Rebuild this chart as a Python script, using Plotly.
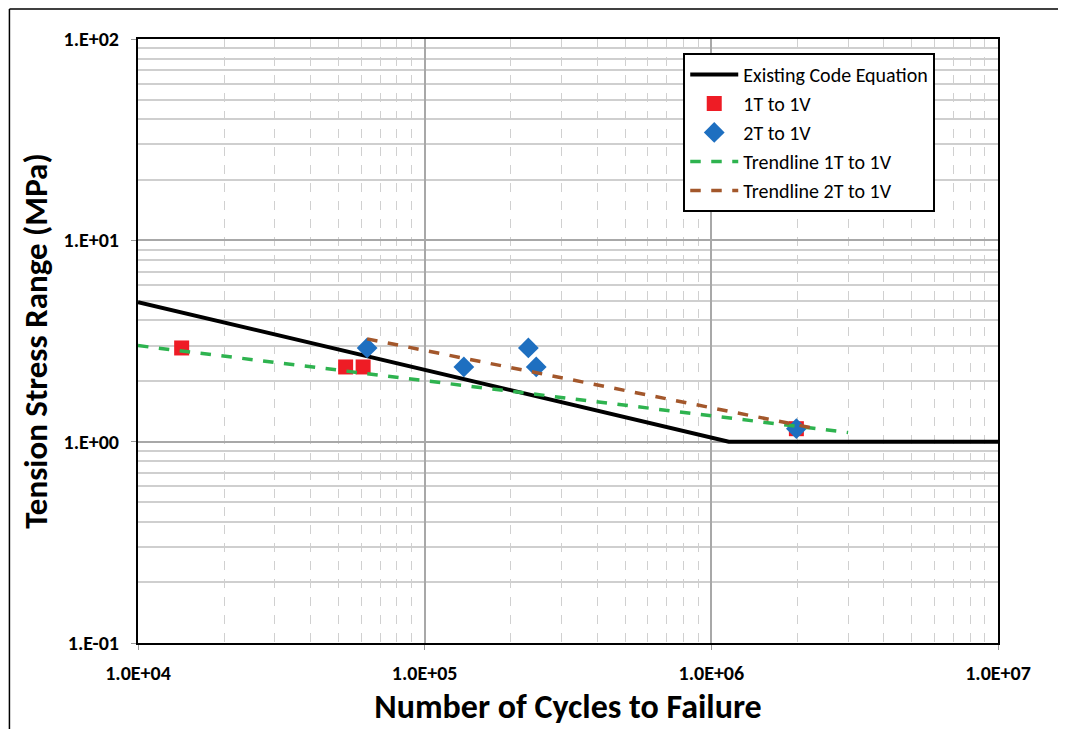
import plotly.graph_objects as go

# Data
code_cycles = [1.0e4, 1.15e6, 1.0e7]
code_stress = [4.93, 1.0, 1.0]

cycles_1t = [1.42e4, 5.3e4, 6.1e4, 1.98e6]
stress_1t = [2.92, 2.35, 2.35, 1.16]

cycles_2t = [6.3e4, 1.37e5, 2.3e5, 2.45e5, 1.98e6]
stress_2t = [2.92, 2.35, 2.92, 2.35, 1.16]

trend_1t_cycles = [1.0e4, 3.0e6]
trend_1t_stress = [3.0, 1.11]

trend_2t_cycles = [6.3e4, 2.25e6]
trend_2t_stress = [3.24, 1.17]

x_ticks = [1e4, 1e5, 1e6, 1e7]
x_ticktext = ["1.0E+04", "1.0E+05", "1.0E+06", "1.0E+07"]
y_ticks = [0.1, 1, 10, 100]
y_ticktext = ["1.E-01", "1.E+00", "1.E+01", "1.E+02"]

FONT = "Carlito, 'Liberation Sans Narrow', 'Liberation Sans', sans-serif"

x_minor = [k * 10 ** e for e in range(4, 7) for k in range(2, 10)]
y_minor = [k * 10 ** e for e in range(-1, 2) for k in range(2, 10)]

fig = go.Figure()

fig.add_trace(go.Scatter(
    x=code_cycles, y=code_stress, mode='lines',
    name='Existing Code Equation',
    line=dict(color='#000000', width=4)
))

fig.add_trace(go.Scatter(
    x=cycles_1t, y=stress_1t, mode='markers',
    name='1T to 1V',
    marker=dict(symbol='square', size=15, color='#EE1C25')
))

fig.add_trace(go.Scatter(
    x=cycles_2t, y=stress_2t, mode='markers',
    name='2T to 1V',
    marker=dict(symbol='diamond', size=16, color='#1E6FC0')
))

fig.add_trace(go.Scatter(
    x=trend_1t_cycles, y=trend_1t_stress, mode='lines',
    name='Trendline 1T to 1V',
    line=dict(color='#2EB34F', width=3.5, dash='dash')
))

fig.add_trace(go.Scatter(
    x=trend_2t_cycles, y=trend_2t_stress, mode='lines',
    name='Trendline 2T to 1V',
    line=dict(color='#A3572B', width=3.5, dash='dash')
))

fig.update_xaxes(
    type='log', range=[4, 7],
    tickmode='array', tickvals=x_ticks, ticktext=x_ticktext,
    tickfont=dict(family=FONT, size=20, color='#000000', weight='bold'),
    ticks='outside', ticklen=5, tickcolor='#999999', ticklabelstandoff=6,
    showgrid=True, gridcolor='#A8A8A8', gridwidth=1.5,
    minor=dict(tickmode='array', tickvals=x_minor, showgrid=True,
               gridcolor='#D0D0D0', griddash='dash', gridwidth=1.2),
    showline=True, linecolor='#000000', linewidth=2, mirror=True,
    zeroline=False,
    title=dict(text='Number of Cycles to Failure', standoff=10,
               font=dict(family=FONT, size=34, color='#000000', weight='bold'))
)

fig.update_yaxes(
    type='log', range=[-1, 2],
    tickmode='array', tickvals=y_ticks, ticktext=y_ticktext,
    tickfont=dict(family=FONT, size=20, color='#000000', weight='bold'),
    ticks='outside', ticklen=5, tickcolor='#999999', ticklabelstandoff=8,
    showgrid=True, gridcolor='#A8A8A8', gridwidth=1.5,
    minor=dict(tickmode='array', tickvals=y_minor, showgrid=True,
               gridcolor='#CFCFCF', gridwidth=1.5),
    showline=True, linecolor='#000000', linewidth=2, mirror=True,
    zeroline=False,
    title=dict(text='Tension Stress Range (MPa)', standoff=6,
               font=dict(family=FONT, size=33, color='#000000', weight='bold'))
)

# outer frame (top and left edges visible in the reference)
fig.add_shape(type='line', xref='paper', yref='paper',
              x0=-0.1495, x1=1.08, y0=1.0495, y1=1.0495,
              line=dict(color='#000000', width=1.5))
fig.add_shape(type='line', xref='paper', yref='paper',
              x0=-0.1495, x1=-0.1495, y0=-0.15, y1=1.0495,
              line=dict(color='#000000', width=1.5))

fig.update_layout(
    width=1058, height=721,
    margin=dict(l=130, r=68, t=31, b=86, autoexpand=False),
    paper_bgcolor='white', plot_bgcolor='white',
    font=dict(family=FONT, color='#000000'),
    showlegend=True,
    legend=dict(
        x=0.634, y=0.977, xanchor='left', yanchor='top',
        bgcolor='white', bordercolor='#000000', borderwidth=2,
        font=dict(family=FONT, size=20, color='#000000'),
        tracegroupgap=0, itemwidth=48
    )
)

fig.write_html("out.html")
